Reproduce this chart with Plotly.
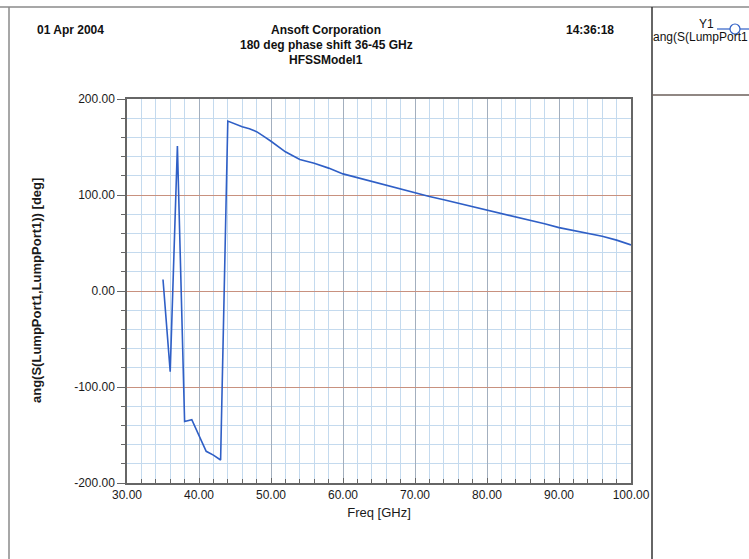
import plotly.graph_objects as go

# Phase of S(LumpPort1,LumpPort1) versus frequency
freq_ghz = [35, 36, 37, 38, 39, 40, 41, 42, 43, 44, 45, 46, 47, 48, 49, 50,
            52, 54, 56, 58, 60, 62, 64, 66, 68, 70, 72, 74, 76, 78, 80,
            82, 84, 86, 88, 90, 92, 94, 96, 98, 100]
phase_deg = [12, -84, 151, -136, -134, -150, -167, -171, -176, 177, 174, 171,
             169, 166, 161, 156, 145, 137, 133, 128, 122, 118, 114, 110, 106,
             102, 98.5, 95, 91.5, 88, 84.5, 80.5, 77, 73.5, 70, 66, 63, 60,
             57, 53, 48]

x_ticks = [30, 40, 50, 60, 70, 80, 90, 100]
y_ticks = [-200, -100, 0, 100, 200]
x_tick_text = [f"{v:.2f}" for v in x_ticks]
y_tick_text = [f"{v:.2f}" for v in y_ticks]

W, H = 749, 559
L, R, T, B = 127, 118, 99, 76
PW, PH = W - L - R, H - T - B

LINE_BLUE = "#2f5fc6"
FONT = "Liberation Sans, Arial, sans-serif"
TXT = "#1a1a1a"


def px(xp):
    return (xp - L) / PW


def py(yp):
    return (H - B - yp) / PH


fig = go.Figure()
fig.add_trace(go.Scatter(
    x=freq_ghz, y=phase_deg, mode="lines",
    line=dict(color=LINE_BLUE, width=1.6),
    showlegend=False, hoverinfo="x+y",
))

axis_common = dict(
    showline=True, mirror=True, linecolor="#666666", linewidth=1.5,
    tickcolor="#666666",
    tickfont=dict(family=FONT, size=12, color=TXT),
    zeroline=False, showgrid=True, gridwidth=1,
)

fig.update_xaxes(
    **axis_common, range=[30, 100], tickvals=x_ticks, ticktext=x_tick_text,
    ticks="inside", ticklen=5,
    gridcolor="#a3afbe",
    minor=dict(dtick=2, tick0=30, showgrid=True, gridcolor="#c4daee",
               ticks="inside", ticklen=4, tickcolor="#666666"),
    title=dict(text="Freq [GHz]", font=dict(family=FONT, size=13, color=TXT),
               standoff=7),
)
fig.update_yaxes(
    **axis_common, range=[-200, 200], tickvals=y_ticks, ticktext=y_tick_text,
    ticks="outside", ticklen=8,
    gridcolor="#c8917f",
    minor=dict(dtick=20, tick0=-200, showgrid=True, gridcolor="#c4daee",
               ticks="outside", ticklen=4, tickcolor="#666666"),
)

shapes = []
frame = "#8a8a8a"
# outer frame and legend panel separators
shapes.append(dict(type="line", xref="paper", yref="paper", x0=px(0), x1=px(W),
                   y0=py(7), y1=py(7), line=dict(color=frame, width=1.5)))
shapes.append(dict(type="line", xref="paper", yref="paper", x0=px(9), x1=px(9),
                   y0=py(7), y1=py(H), line=dict(color=frame, width=1.5)))
shapes.append(dict(type="line", xref="paper", yref="paper", x0=px(652), x1=px(652),
                   y0=py(7), y1=py(H), line=dict(color="#333333", width=1.5)))
shapes.append(dict(type="line", xref="paper", yref="paper", x0=px(652), x1=px(W),
                   y0=py(95), y1=py(95), line=dict(color="#6b5f5a", width=1.5)))
# legend sample: line with open circle marker
shapes.append(dict(type="line", xref="paper", yref="paper", x0=px(717), x1=px(W),
                   y0=py(29), y1=py(29), line=dict(color=LINE_BLUE, width=1.2)))
shapes.append(dict(type="circle", xref="paper", yref="paper",
                   x0=px(730), x1=px(740), y0=py(24), y1=py(34),
                   fillcolor="white", line=dict(color=LINE_BLUE, width=1.2)))
fig.update_layout(shapes=shapes)

ann = []
hdr = dict(family=FONT, size=12, color="#111111")
ann.append(dict(text="<b>01 Apr 2004</b>", x=px(35), y=py(30), xref="paper", yref="paper",
                xanchor="left", yanchor="middle", showarrow=False, font=hdr))
ann.append(dict(text="<b>Ansoft Corporation</b>", x=px(326), y=py(30), xref="paper",
                yref="paper", xanchor="center", yanchor="middle", showarrow=False, font=hdr))
ann.append(dict(text="<b>180 deg phase shift 36-45 GHz</b>", x=px(326), y=py(45),
                xref="paper", yref="paper", xanchor="center", yanchor="middle",
                showarrow=False, font=hdr))
ann.append(dict(text="<b>HFSSModel1</b>", x=px(326), y=py(60), xref="paper", yref="paper",
                xanchor="center", yanchor="middle", showarrow=False, font=hdr))
ann.append(dict(text="<b>14:36:18</b>", x=px(616), y=py(30), xref="paper", yref="paper",
                xanchor="right", yanchor="middle", showarrow=False, font=hdr))
# y-axis title
ann.append(dict(text="<b>ang(S(LumpPort1,LumpPort1)) [deg]</b>", x=px(36), y=0.5,
                xref="paper", yref="paper", xanchor="center", yanchor="middle",
                textangle=-90, showarrow=False,
                font=dict(family=FONT, size=13, color=TXT)))
leg = dict(family=FONT, size=12, color="#111111")
ann.append(dict(text="Y1", x=px(716), y=py(24), xref="paper", yref="paper",
                xanchor="right", yanchor="middle", showarrow=False, font=leg))
ann.append(dict(text="ang(S(LumpPort1", x=px(651), y=py(37), xref="paper",
                yref="paper", xanchor="left", yanchor="middle", showarrow=False,
                font=leg))
fig.update_layout(annotations=ann)

fig.update_layout(
    width=W, height=H,
    margin=dict(l=L, r=R, t=T, b=B),
    paper_bgcolor="white", plot_bgcolor="white",
    showlegend=False,
)

fig.write_html("out.html")
